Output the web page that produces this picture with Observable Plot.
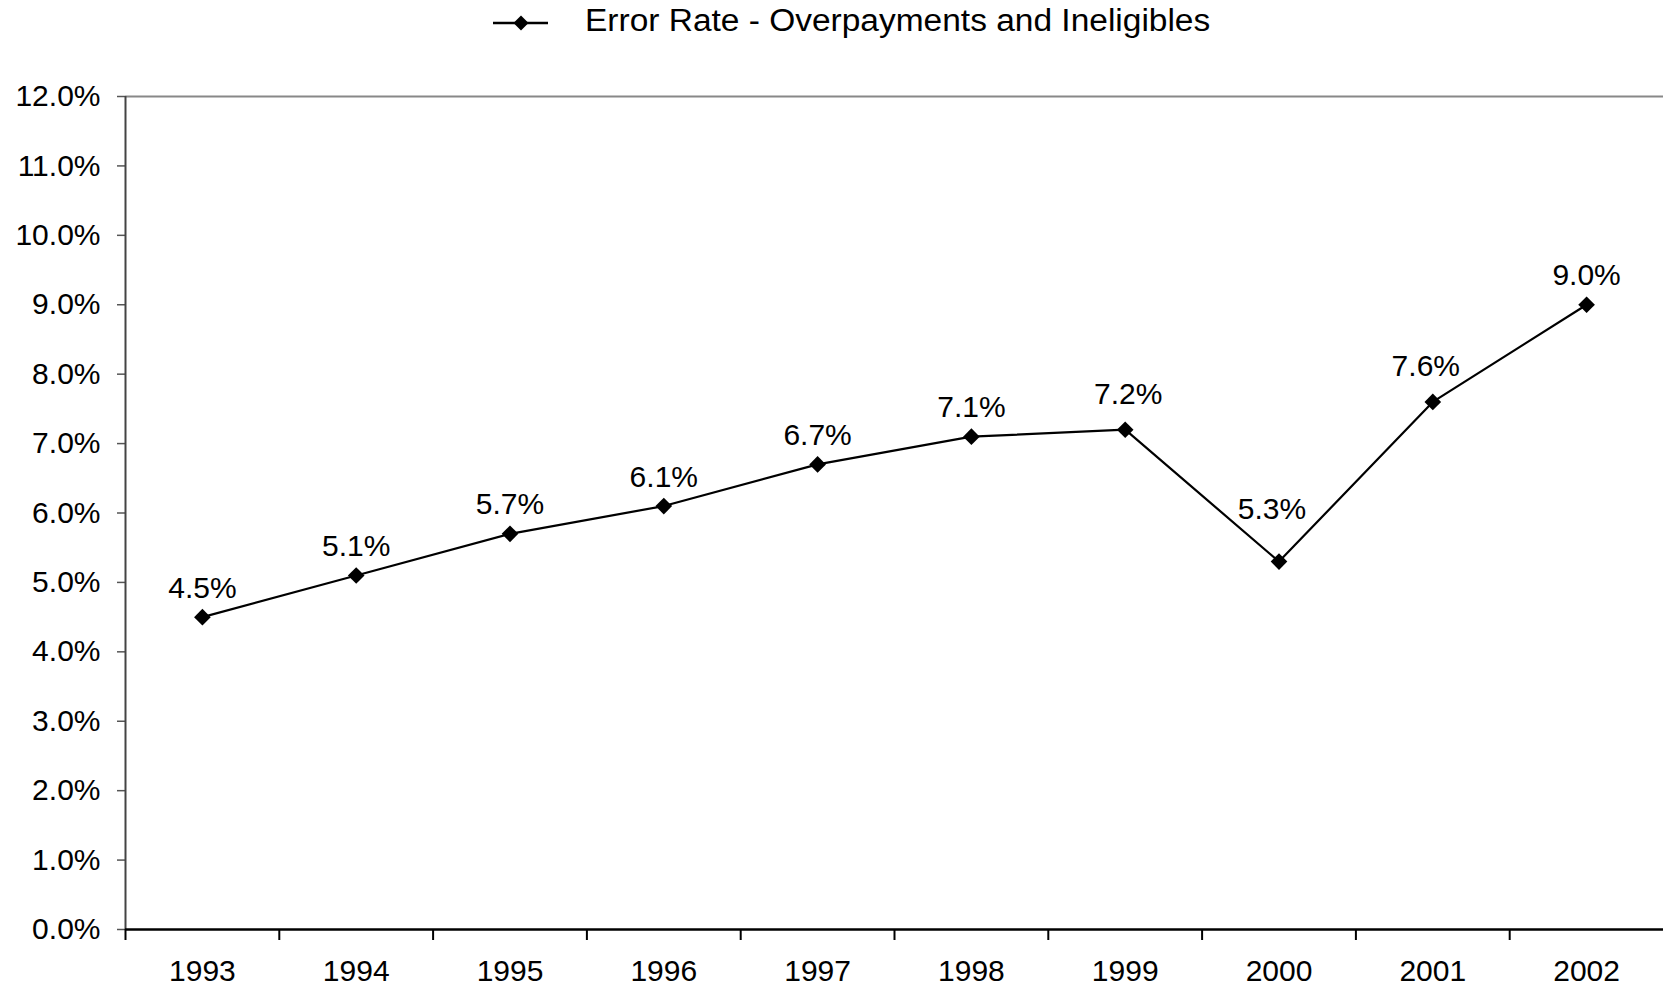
<!DOCTYPE html>
<html>
<head>
<meta charset="utf-8">
<script src="https://cdn.jsdelivr.net/npm/d3@7"></script>
<script src="https://cdn.jsdelivr.net/npm/@observablehq/plot@0.6"></script>
<style>
  html, body { margin: 0; padding: 0; background: #fff; }
  body { width: 1663px; height: 988px; overflow: hidden; font-family: "Liberation Sans", Arial, sans-serif; }
  #legend { position: relative; height: 50px; width: 1663px; }
  #legend svg.key { position: absolute; left: 490px; top: 13px; }
  #legend span { position: absolute; left: 585px; top: 3px; font-size: 31px; line-height: 36px; color: #000; white-space: nowrap; transform-origin: left center; transform: scaleX(1.08); }
  #chart svg { display: block; }
</style>
</head>
<body>
<div id="legend">
  <svg class="key" width="62" height="20">
    <line x1="3" y1="10" x2="58" y2="10" stroke="#000" stroke-width="2.5"></line>
    <path d="M31,2.5 L38.5,10 L31,17.5 L23.5,10 Z" fill="#000"></path>
  </svg>
  <span id="legendText"></span>
</div>
<div id="chart"></div>
<script>
const seriesName = "Error Rate - Overpayments and Ineligibles";
const years = [1993, 1994, 1995, 1996, 1997, 1998, 1999, 2000, 2001, 2002];
const errorRate = [0.045, 0.051, 0.057, 0.061, 0.067, 0.071, 0.072, 0.053, 0.076, 0.090];
const yTicks = [0, 0.01, 0.02, 0.03, 0.04, 0.05, 0.06, 0.07, 0.08, 0.09, 0.10, 0.11, 0.12];

document.getElementById("legendText").textContent = seriesName;

const data = years.map((y, i) => ({year: y, value: errorRate[i]}));
const boundaries = years.map(y => y - 0.5);
const pct = d3.format(".1%");
const labelOpts = {x: "year", y: "value", text: d => pct(d.value), fontSize: 30, fill: "#000"};

const chart = Plot.plot({
  width: 1663,
  height: 938,
  marginTop: 46,
  marginBottom: 59,
  marginLeft: 125,
  marginRight: 0,
  style: {fontFamily: "'Liberation Sans', Arial, sans-serif", background: "#fff", color: "#000"},
  x: {type: "linear", domain: [1992.5, 2002.5]},
  y: {domain: [0, 0.12]},
  marks: [
    Plot.axisY({ticks: yTicks, tickFormat: pct, tickSize: 8, tickPadding: 17, fontSize: 30, stroke: "#555", strokeWidth: 1.5, label: null}),
    Plot.axisX({ticks: years, tickFormat: d => String(d), tickSize: 0, tickPadding: 30, fontSize: 30, label: null}),
    Plot.axisX({ticks: boundaries, tickFormat: () => "", tickSize: 11, stroke: "#000", strokeWidth: 2, label: null}),
    Plot.ruleY([0.12], {stroke: "#888", strokeWidth: 2}),
    Plot.ruleX([1992.5], {stroke: "#444", strokeWidth: 2}),
    Plot.ruleY([0], {stroke: "#000", strokeWidth: 2.5}),
    Plot.line(data, {x: "year", y: "value", stroke: "#000", strokeWidth: 2.2}),
    Plot.dot(data, {x: "year", y: "value", symbol: "diamond2", r: 7.5, fill: "#000", stroke: "none"}),
    Plot.text(data, {...labelOpts, filter: d => d.year < 1999 || d.year === 2002, dy: -29}),
    Plot.text(data, {...labelOpts, filter: d => d.year === 1999, dy: -35, dx: 3}),
    Plot.text(data, {...labelOpts, filter: d => d.year === 2000, dy: -52, dx: -7}),
    Plot.text(data, {...labelOpts, filter: d => d.year === 2001, dy: -36, dx: -7})
  ]
});
document.getElementById("chart").appendChild(chart);
</script>
</body>
</html>
